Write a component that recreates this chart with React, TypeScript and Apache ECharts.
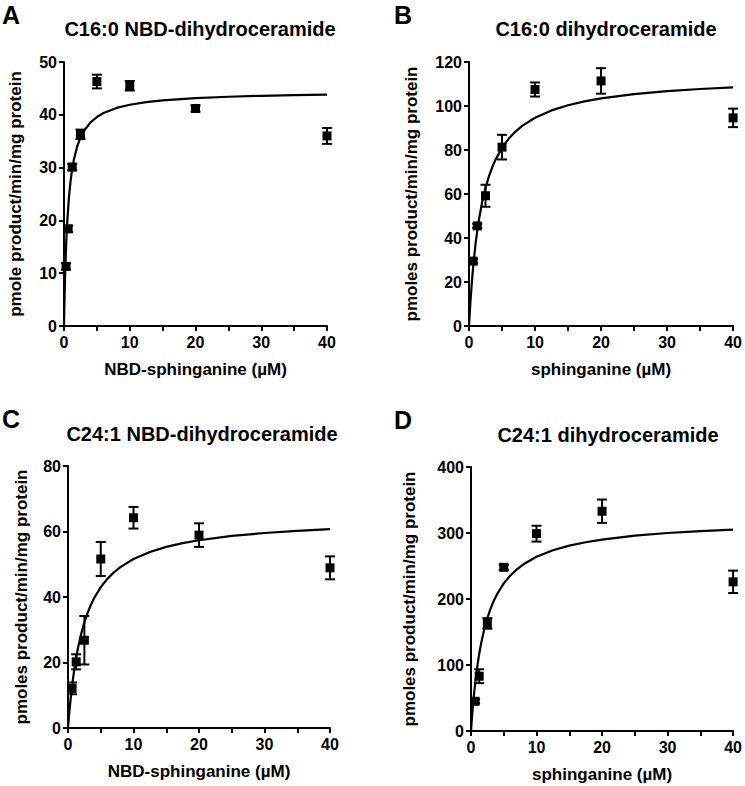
import React, { useEffect, useRef } from "react";
import * as echarts from "echarts";

// ---------- data ----------
const TITLES = ["C16:0 NBD-dihydroceramide", "C16:0 dihydroceramide", "C24:1 NBD-dihydroceramide", "C24:1 dihydroceramide"];
const LETTERS = ["A", "B", "C", "D"];
const X_NAMES = ["NBD-sphinganine (µM)", "sphinganine (µM)", "NBD-sphinganine (µM)", "sphinganine (µM)"];
const Y_NAMES = ["pmole product/min/mg protein", "pmoles product/min/mg protein", "pmoles product/min/mg protein", "pmoles product/min/mg protein"];
const Y_MAX = [50, 120, 80, 400];
const Y_STEP = [10, 20, 20, 100];

// panel A
const A_X = [0.3125, 0.625, 1.25, 2.5, 5, 10, 20, 40];
const A_Y = [11.3, 18.4, 30.1, 36.3, 46.3, 45.5, 41.2, 36.0];
const A_ERR = [0.6, 0.6, 0.6, 0.9, 1.3, 0.9, 0.6, 1.5];
const A_FIT_X = [0, 0.05, 0.1, 0.15, 0.2, 0.3, 0.4, 0.5, 0.75, 1, 1.25, 1.5, 2, 2.5, 3, 4, 5, 6, 8, 10, 12.5, 15, 20, 25, 30, 35, 40];
const A_FIT_Y = [0, 3.3, 6.18, 8.7, 10.85, 14.51, 17.44, 19.87, 24.36, 27.47, 29.75, 31.49, 33.97, 35.66, 36.88, 38.53, 39.59, 40.33, 41.3, 41.9, 42.4, 42.73, 43.16, 43.42, 43.6, 43.73, 43.82];

// panel B
const B_X = [0.625, 1.25, 2.5, 5, 10, 20, 40];
const B_Y = [29.5, 45.5, 59.2, 81.3, 107.5, 111.4, 94.6];
const B_ERR = [1.0, 1.0, 5.0, 5.6, 3.2, 5.8, 4.2];
const FIT_X = [0, 0.1, 0.25, 0.5, 0.75, 1, 1.25, 1.5, 2, 2.5, 3, 3.5, 4, 5, 6, 7, 8, 10, 12.5, 15, 17.5, 20, 25, 30, 35, 40];
const B_FIT_Y = [0, 5.32, 12.45, 22.44, 30.65, 37.5, 43.31, 48.31, 56.44, 62.78, 67.86, 72.03, 75.5, 80.97, 85.07, 88.26, 90.84, 94.68, 98.0, 100.35, 102.12, 103.45, 105.4, 106.74, 107.72, 108.47];

// panel C
const C_X = [0.625, 1.25, 2.5, 5, 10, 20, 40];
const C_Y = [12.1, 20.2, 26.8, 51.6, 64.2, 58.9, 48.9];
const C_ERR = [1.8, 2.3, 7.4, 5.2, 3.3, 3.6, 3.5];
const C_FIT_Y = [0, 2.48, 5.86, 10.75, 14.88, 18.43, 21.5, 24.19, 28.67, 32.25, 35.18, 37.63, 39.69, 43.0, 45.53, 47.52, 49.14, 51.6, 53.75, 55.29, 56.44, 57.33, 58.64, 59.54, 60.2, 60.71];

// panel D
const D_X = [0.625, 1.25, 2.5, 5, 10, 20, 40];
const D_Y = [45, 83, 163, 248, 299, 333, 226];
const D_ERR = [3, 10.5, 8, 4, 12, 17.7, 17];
const D_FIT_Y = [0, 14.02, 32.86, 59.63, 81.86, 100.63, 116.67, 130.54, 153.33, 171.28, 185.77, 197.72, 207.74, 223.61, 235.61, 244.89, 252.55, 263.93, 273.81, 280.81, 286.0, 290.09, 295.96, 300.0, 302.96, 305.21];

const PANEL_X = [A_X, B_X, C_X, D_X];
const PANEL_Y = [A_Y, B_Y, C_Y, D_Y];
const PANEL_ERR = [A_ERR, B_ERR, C_ERR, D_ERR];
const PANEL_FIT_X = [A_FIT_X, FIT_X, FIT_X, FIT_X];
const PANEL_FIT_Y = [A_FIT_Y, B_FIT_Y, C_FIT_Y, D_FIT_Y];

// ---------- layout ----------
const GRIDS = [
  { left: 64, top: 62, width: 263, height: 264 },
  { left: 469, top: 62, width: 265, height: 264 },
  { left: 68, top: 466, width: 262, height: 262 },
  { left: 471, top: 467, width: 264, height: 264 },
];
const TITLE_POS = [
  [195, 27],
  [601, 27],
  [197, 432],
  [603, 433],
];
const LETTER_POS = [
  [2, 3],
  [394, 3],
  [2, 407],
  [394, 408],
];
const Y_NAME_GAP = [40, 49, 38, 53];

const FONT = "'Liberation Sans', Arial, sans-serif";
const INK = "#000";

export default function App() {
  const ref = useRef<HTMLDivElement>(null);
  useEffect(() => {
    if (!ref.current) return;
    const chart = echarts.init(ref.current, undefined, { renderer: "svg" });

    const grid = GRIDS.map((g) => ({ ...g, containLabel: false }));
    const xAxis = GRIDS.map((_, i) => ({
      type: "value",
      gridIndex: i,
      min: 0,
      max: 40,
      interval: 5,
      name: X_NAMES[i],
      nameLocation: "middle",
      nameGap: 35,
      nameTextStyle: { fontFamily: FONT, fontWeight: "bold", fontSize: 17, color: INK },
      axisLine: { show: true, onZero: false, lineStyle: { color: INK, width: 2 } },
      axisTick: { show: true, inside: false, length: 5, lineStyle: { color: INK, width: 2 } },
      axisLabel: {
        fontFamily: FONT,
        fontWeight: "bold",
        fontSize: 16,
        color: INK,
        margin: 8,
        formatter: (v: number) => (v % 10 === 0 ? String(v) : ""),
      },
      splitLine: { show: false },
    }));
    const yAxis = GRIDS.map((_, i) => ({
      type: "value",
      gridIndex: i,
      min: 0,
      max: Y_MAX[i],
      interval: Y_STEP[i],
      name: Y_NAMES[i],
      nameLocation: "middle",
      nameRotate: 90,
      nameGap: Y_NAME_GAP[i],
      nameTextStyle: { fontFamily: FONT, fontWeight: "bold", fontSize: 17, color: INK },
      axisLine: { show: true, onZero: false, lineStyle: { color: INK, width: 2 } },
      axisTick: { show: true, inside: false, length: 5, lineStyle: { color: INK, width: 2 } },
      axisLabel: { fontFamily: FONT, fontWeight: "bold", fontSize: 16, color: INK, margin: 7 },
      splitLine: { show: false },
    }));

    const series: any[] = [];
    for (let i = 0; i < 4; i++) {
      const fit = PANEL_FIT_X[i].map((x, k) => [x, PANEL_FIT_Y[i][k]]);
      series.push({
        type: "line",
        xAxisIndex: i,
        yAxisIndex: i,
        data: fit,
        showSymbol: false,
        smooth: false,
        lineStyle: { color: INK, width: 2.2, join: "round" },
        z: 2,
      });
      const errData = PANEL_X[i].map((x, k) => [x, PANEL_Y[i][k] - PANEL_ERR[i][k], PANEL_Y[i][k] + PANEL_ERR[i][k]]);
      series.push({
        type: "custom",
        xAxisIndex: i,
        yAxisIndex: i,
        data: errData,
        renderItem: (params: any, api: any) => {
          const lo = api.coord([api.value(0), api.value(1)]);
          const hi = api.coord([api.value(0), api.value(2)]);
          const hw = 5;
          const style = { stroke: INK, lineWidth: 2 };
          return {
            type: "group",
            children: [
              { type: "line", shape: { x1: lo[0], y1: lo[1], x2: hi[0], y2: hi[1] }, style },
              { type: "line", shape: { x1: lo[0] - hw, y1: lo[1], x2: lo[0] + hw, y2: lo[1] }, style },
              { type: "line", shape: { x1: hi[0] - hw, y1: hi[1], x2: hi[0] + hw, y2: hi[1] }, style },
            ],
          };
        },
        z: 3,
      });
      series.push({
        type: "scatter",
        xAxisIndex: i,
        yAxisIndex: i,
        data: PANEL_X[i].map((x, k) => [x, PANEL_Y[i][k]]),
        symbol: "rect",
        symbolSize: 9,
        itemStyle: { color: INK, opacity: 1 },
        z: 4,
      });
    }

    const title = TITLES.map((t, i) => ({
      text: t,
      left: TITLE_POS[i][0],
      top: TITLE_POS[i][1] - 13,
      textAlign: "center",
      textStyle: { fontFamily: FONT, fontWeight: "bold", fontSize: 20, color: INK },
    }));

    const graphic = LETTERS.map((l, i) => ({
      type: "text",
      left: LETTER_POS[i][0],
      top: LETTER_POS[i][1] - 1,
      style: { text: l, font: `bold 25px ${FONT}`, fill: INK },
    }));

    chart.setOption({
      animation: false,
      backgroundColor: "#fff",
      title,
      grid,
      xAxis,
      yAxis,
      series,
      graphic,
    });
    return () => chart.dispose();
  }, []);
  return (
    <div
      ref={ref}
      style={{ position: "absolute", left: 0, top: 0, width: 745, height: 786, background: "#fff" }}
    />
  );
}
